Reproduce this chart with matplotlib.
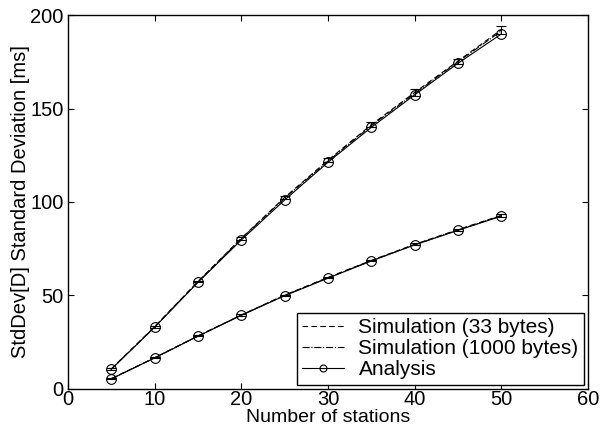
import matplotlib
matplotlib.use("Agg")
import matplotlib.pyplot as plt

plt.rcParams['font.family'] = ['Liberation Sans', 'DejaVu Sans']

stations = [5, 10, 15, 20, 25, 30, 35, 40, 45, 50]

# upper group of curves
sim33_hi = [10.6, 33.2, 57.4, 80.5, 102.4, 122.3, 141.3, 158.6, 175.4, 192.2]
sim33_hi_err = [0.3, 0.4, 0.5, 0.6, 0.8, 1.0, 1.3, 1.8, 1.3, 2.2]
sim1000_hi = [10.4, 33.0, 57.2, 80.3, 102.0, 121.8, 140.8, 158.0, 175.0, 191.5]
ana_hi = [10.4, 32.9, 56.9, 79.6, 101.0, 121.2, 139.9, 157.3, 174.2, 189.9]

# lower group of curves
sim33_lo = [5.4, 16.6, 28.3, 39.5, 50.1, 59.6, 68.7, 77.3, 85.2, 92.8]
sim33_lo_err = [0.2, 0.2, 0.3, 0.3, 0.3, 0.4, 0.4, 0.5, 0.5, 0.6]
sim1000_lo = [5.3, 16.5, 28.2, 39.4, 50.0, 59.4, 68.5, 77.1, 85.0, 92.6]
ana_lo = [5.3, 16.5, 28.1, 39.3, 49.8, 59.2, 68.4, 77.0, 84.8, 92.4]

fig = plt.figure(figsize=(6, 4.32), dpi=100)
ax = fig.add_axes([0.113, 0.1, 0.867, 0.865])

lw = 0.8
for sim33, err in ((sim33_hi, sim33_hi_err), (sim33_lo, sim33_lo_err)):
    ax.errorbar(stations, sim33, yerr=err, color='k', linestyle=(0, (5, 3)), linewidth=lw,
                elinewidth=lw, capsize=3.5, capthick=lw)
for sim1000 in (sim1000_hi, sim1000_lo):
    ax.plot(stations, sim1000, color='k', linestyle='-.', linewidth=lw)
for ana in (ana_hi, ana_lo):
    ax.plot(stations, ana, color='k', linestyle='-', linewidth=lw,
            marker='o', markersize=7, markerfacecolor='none', markeredgewidth=lw)

h1, = ax.plot([], [], color='k', linestyle=(0, (5, 3)), linewidth=lw)
h2, = ax.plot([], [], color='k', linestyle='-.', linewidth=lw)
h3, = ax.plot([], [], color='k', linestyle='-', linewidth=lw, marker='o',
              markersize=5, markerfacecolor='none', markeredgewidth=lw)
leg = ax.legend([h1, h2, h3],
                ['Simulation (33 bytes)', 'Simulation (1000 bytes)', 'Analysis'],
                loc='lower right', fontsize=15, fancybox=False, framealpha=1,
                edgecolor='k', borderaxespad=0.2, handlelength=2.0,
                labelspacing=0.1, borderpad=0.25, handletextpad=0.7)
leg.get_frame().set_linewidth(1.0)

ax.set_xlim(0, 60)
ax.set_ylim(0, 200)
ax.set_xticks(range(0, 61, 10))
ax.set_yticks(range(0, 201, 50))
ax.tick_params(direction='in', top=True, right=True, labelsize=14.5, length=4)
ax.tick_params(axis='x', pad=1)
ax.tick_params(axis='y', pad=3)
for s in ax.spines.values():
    s.set_linewidth(1.0)

ax.set_xlabel('Number of stations', fontsize=14, labelpad=0)
ax.set_ylabel('StdDev[D] Standard Deviation [ms]', fontsize=14.5, labelpad=0)

fig.savefig('out.png', dpi=100)
